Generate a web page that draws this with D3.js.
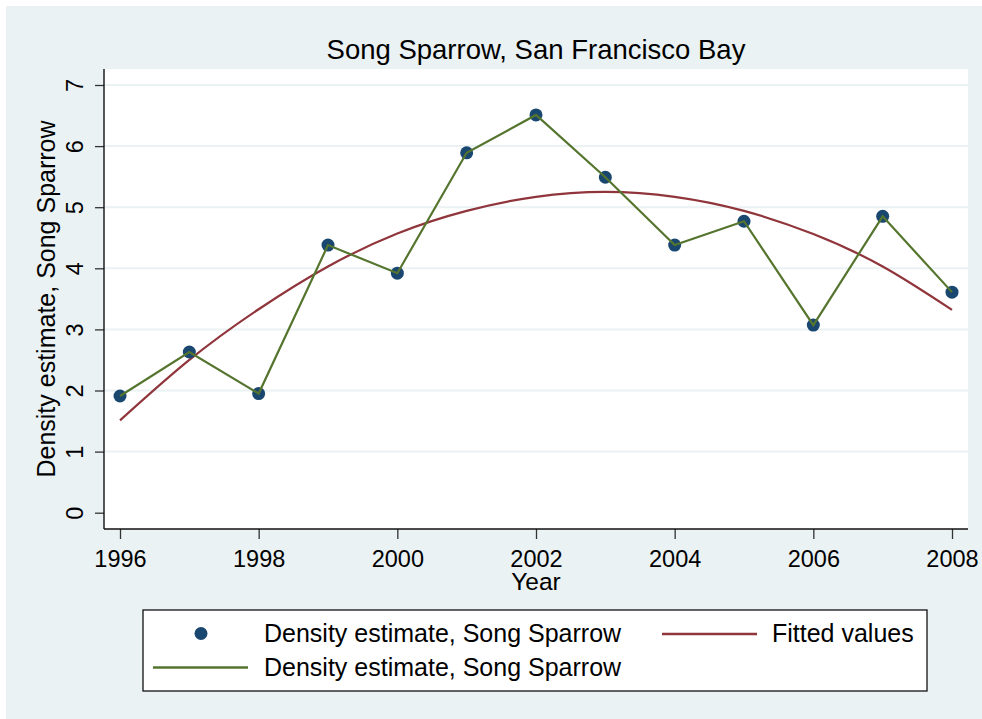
<!DOCTYPE html>
<html><head><meta charset="utf-8">
<script src="https://cdn.jsdelivr.net/npm/d3@7"></script>
<style>html,body{margin:0;padding:0;background:#fff;}svg{display:block;font-family:"Liberation Sans",Arial,Helvetica,sans-serif;}</style>
</head><body>
<svg id="c" width="982" height="719"></svg>
<script>
const years = [1996,1997,1998,1999,2000,2001,2002,2003,2004,2005,2006,2007,2008];
const density = [1.91,2.63,1.95,4.38,3.92,5.89,6.51,5.49,4.38,4.77,3.07,4.85,3.61];
const fitted = [1.51,2.50,3.33,4.03,4.57,4.94,5.17,5.25,5.17,4.94,4.56,4.03,3.32];
const xTicks = [1996,1998,2000,2002,2004,2006,2008];
const yTicks = [0,1,2,3,4,5,6,7];
const titleText = "Song Sparrow, San Francisco Bay";
const xTitle = "Year";
const yTitle = "Density estimate, Song Sparrow";
const legendLabels = ["Density estimate, Song Sparrow","Fitted values","Density estimate, Song Sparrow"];

const navy="#1A476F", maroon="#90353B", green="#55752F", bg="#EAF2F3";
const svg=d3.select("#c");
const P={l:104,t:69,r:968,b:529};

svg.append("rect").attr("x",6).attr("y",6).attr("width",976).attr("height",713).attr("fill",bg);
svg.append("rect").attr("x",P.l).attr("y",P.t).attr("width",P.r-P.l).attr("height",P.b-P.t).attr("fill","#fff");

const x=d3.scaleLinear().domain([1996,2008]).range([120,952]);
const y=d3.scaleLinear().domain([0,7]).range([512.7,85]);

// gridlines
svg.append("g").selectAll("line").data(yTicks.filter(d=>d>0)).join("line")
  .attr("x1",P.l).attr("x2",P.r).attr("y1",d=>y(d)).attr("y2",d=>y(d))
  .attr("stroke",bg).attr("stroke-width",2);

// y axis
const ya=svg.append("g").attr("transform",`translate(${P.l},0)`)
  .call(d3.axisLeft(y).tickValues(yTicks).tickSize(9).tickSizeOuter(0).tickFormat(d3.format("d")));
ya.select(".domain").remove();
ya.selectAll(".tick line").attr("stroke","#333").attr("stroke-width",1.3);
ya.selectAll(".tick text").attr("font-size",23.5).attr("fill","#000")
  .attr("text-anchor","middle").attr("x",0).attr("dy",0)
  .attr("transform",`translate(${83-P.l},0) rotate(-90)`);
svg.append("line").attr("x1",P.l).attr("x2",P.l).attr("y1",P.t).attr("y2",P.b).attr("stroke","#111").attr("stroke-width",1.4);

// x axis
const xa=svg.append("g").attr("transform",`translate(0,${P.b})`)
  .call(d3.axisBottom(x).tickValues(xTicks).tickSize(10).tickFormat(d3.format("d")));
xa.select(".domain").remove();
xa.selectAll(".tick line").attr("stroke","#333").attr("stroke-width",1.3);
xa.selectAll(".tick text").attr("font-size",23.5).attr("fill","#000").attr("y",38).attr("dy",0);
svg.append("line").attr("x1",P.l).attr("x2",P.r).attr("y1",P.b).attr("y2",P.b).attr("stroke","#111").attr("stroke-width",1.4);

// titles
svg.append("text").attr("x",536).attr("y",59).attr("text-anchor","middle").attr("font-size",27.5).text(titleText);
svg.append("text").attr("x",536).attr("y",590).attr("text-anchor","middle").attr("font-size",24.5).text(xTitle);
svg.append("text").attr("transform","translate(55,299) rotate(-90)").attr("text-anchor","middle").attr("font-size",25).text(yTitle);

const pts=years.map((yr,i)=>({yr,v:density[i],f:fitted[i]}));
// fitted
svg.append("path").datum(pts).attr("fill","none").attr("stroke",maroon).attr("stroke-width",2.2)
  .attr("d",d3.line().x(d=>x(d.yr)).y(d=>y(d.f)).curve(d3.curveNatural));
// markers
svg.append("g").selectAll("circle").data(pts).join("circle")
  .attr("cx",d=>x(d.yr)).attr("cy",d=>y(d.v)).attr("r",6.5).attr("fill",navy);
// connected line
svg.append("path").datum(pts).attr("fill","none").attr("stroke",green).attr("stroke-width",2.2)
  .attr("d",d3.line().x(d=>x(d.yr)).y(d=>y(d.v)));

// legend
const lg=svg.append("g");
lg.append("rect").attr("x",143).attr("y",610).attr("width",784).attr("height",81).attr("fill","#fff").attr("stroke","#111").attr("stroke-width",1.3);
lg.append("circle").attr("cx",201).attr("cy",633.5).attr("r",6.5).attr("fill",navy);
lg.append("text").attr("x",264).attr("y",642).attr("font-size",25).text(legendLabels[0]);
lg.append("line").attr("x1",662).attr("x2",757).attr("y1",634).attr("y2",634).attr("stroke",maroon).attr("stroke-width",2.5);
lg.append("text").attr("x",772).attr("y",642).attr("font-size",25).text(legendLabels[1]);
lg.append("line").attr("x1",153).attr("x2",248).attr("y1",667.5).attr("y2",667.5).attr("stroke",green).attr("stroke-width",2.5);
lg.append("text").attr("x",264).attr("y",676).attr("font-size",25).text(legendLabels[2]);
</script>
</body></html>
